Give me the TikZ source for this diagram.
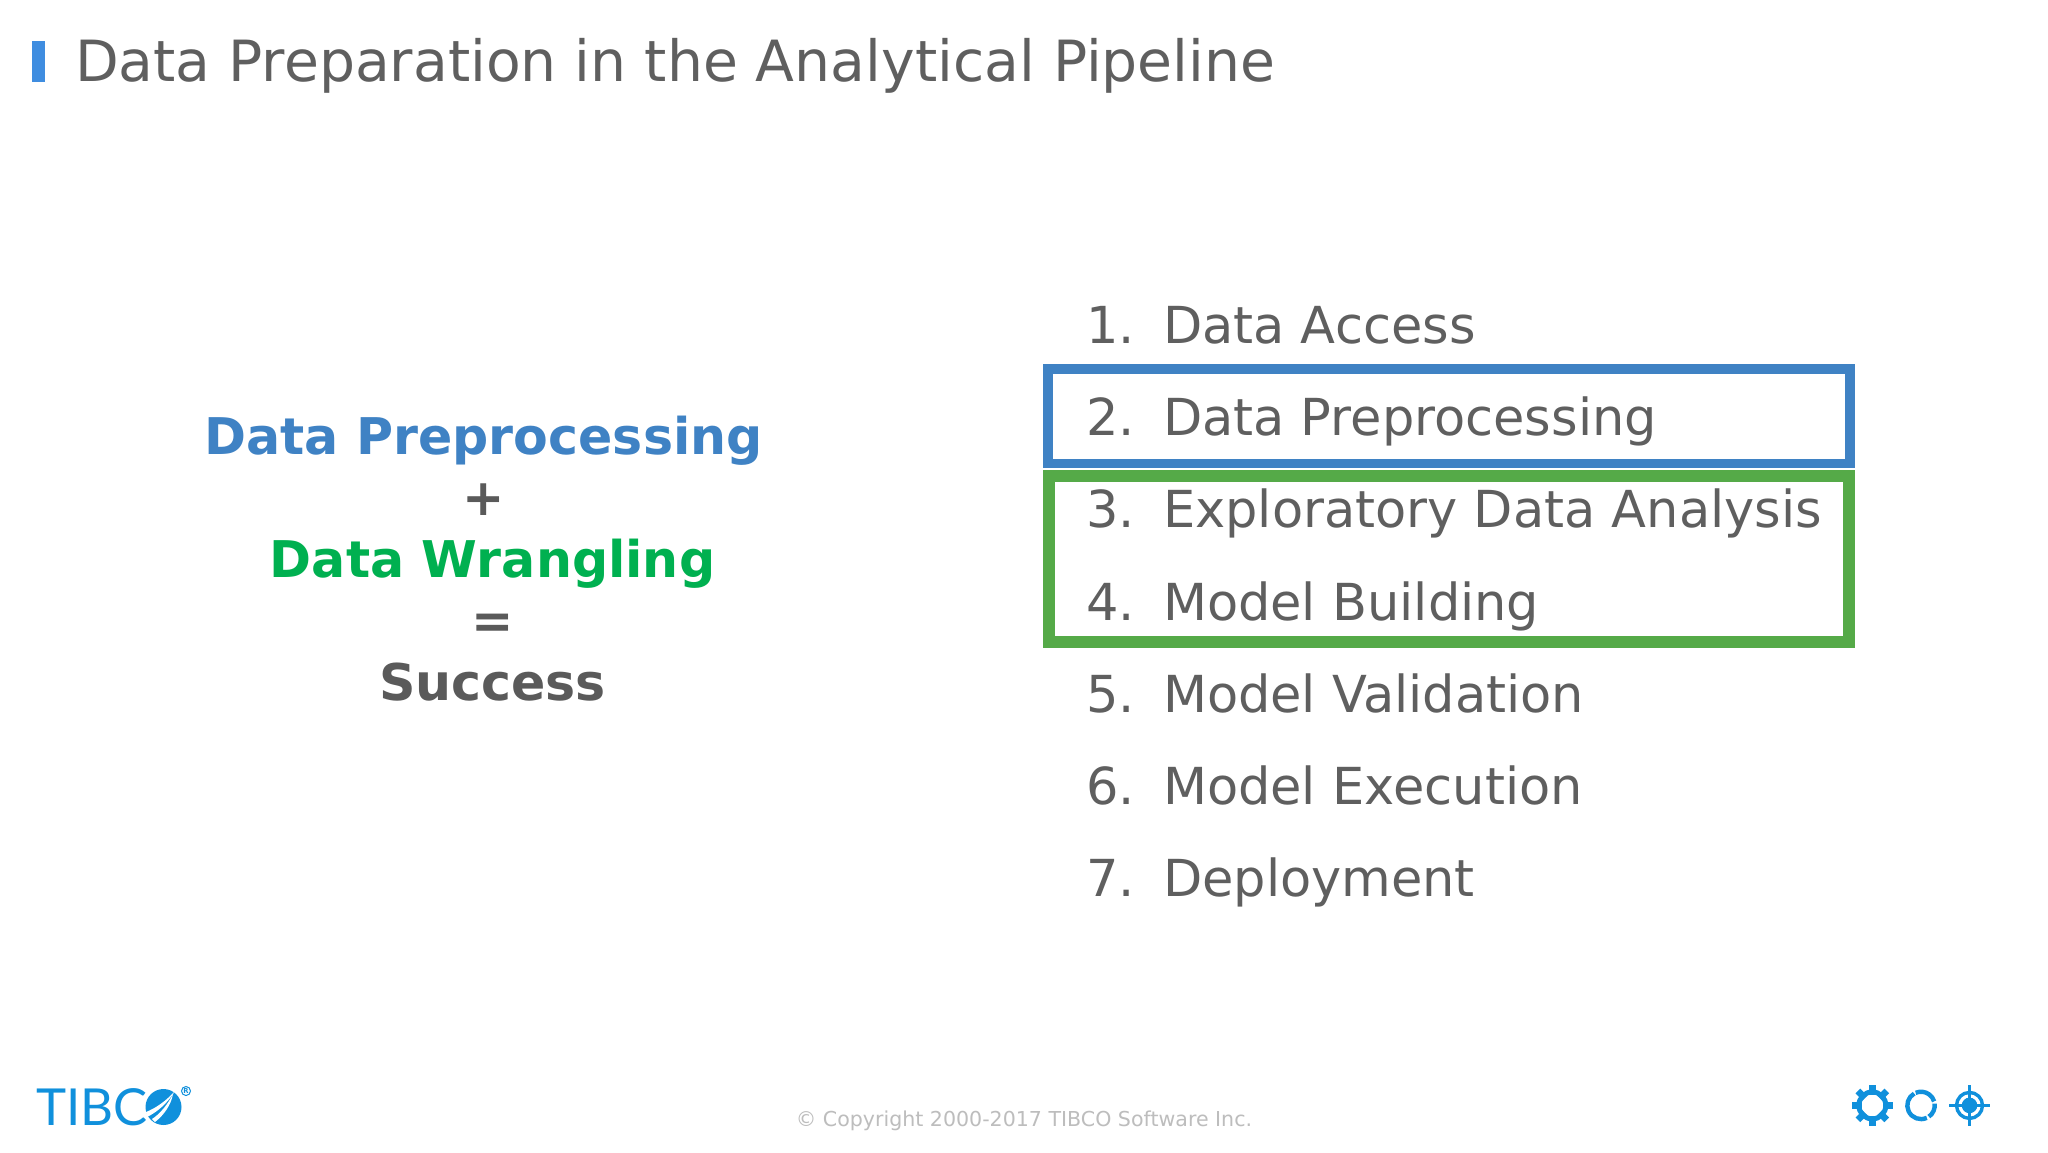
\documentclass[tikz,border=0pt]{standalone}
\usepackage{fontspec}
\setmainfont{DejaVu Sans}
\newfontfamily\logofont{Lato}
\definecolor{txtgray}{HTML}{5F5F5F}
\definecolor{boldgray}{HTML}{5A5A5A}
\definecolor{boxblue}{HTML}{3F82C4}
\definecolor{boxgreen}{HTML}{55AA48}
\definecolor{wrangle}{HTML}{00B050}
\definecolor{barblue}{HTML}{3F8DE0}
\definecolor{logoblue}{HTML}{1090DC}
\definecolor{copygray}{HTML}{BDBDBD}
\tikzset{
  x=0.5pt,y=-0.5pt,
  every node/.style={inner sep=0pt,outer sep=0pt},
  titletext/.style={anchor=base west,text=txtgray,font=\fontsize{28.4}{30}\selectfont},
  numtext/.style={anchor=base west,text=txtgray,font=\fontsize{25.5}{28}\selectfont},
  lefttext/.style={anchor=base,font=\fontsize{25.3}{28}\selectfont\bfseries},
}
\begin{document}
\begin{tikzpicture}
\useasboundingbox (0,0) rectangle (2048,1152);
\fill[white] (0,0) rectangle (2048,1152);
% title
\fill[barblue] (32,41) rectangle (45,82);
\node[titletext] (title) at (75,81) {Data Preparation in the Analytical Pipeline};
% boxes
\draw[boxblue,line width=4.75pt] (1048,369) rectangle (1850,463.5);
\draw[boxgreen,line width=6.25pt] (1049.2,476.2) rectangle (1848.8,641.8);
% list
\foreach \n/\t/\y in {1/Data Access/343,2/Data Preprocessing/435,3/Exploratory Data Analysis/527,4/Model Building/620,5/Model Validation/712,6/Model Execution/804,7/Deployment/896}{
  \node[numtext] (num\n) at (1086.5,\y) {\n.};
  \node[numtext] (item\n) at (1163,\y) {\t};
}
% left
\node[lefttext,text=boxblue] (lp) at (483.5,454) {Data Preprocessing};
\node[lefttext,text=boldgray] (lplus) at (483.5,515) {+};
\node[lefttext,text=wrangle] (lw) at (492.5,577) {Data Wrangling};
\node[lefttext,text=boldgray] (leq) at (492.5,638) {=};
\node[lefttext,text=boldgray] (ls) at (492.5,700) {Success};
% copyright
\node[anchor=base,text=copygray,font=\fontsize{10.28}{12}\selectfont] (copy) at (1024,1126) {© Copyright 2000-2017 TIBCO Software Inc.};
% logo
\node[anchor=base west,text=logoblue,font=\logofont\fontsize{25.5}{28}\selectfont] (logo) at (36,1125) {TIBC};
\fill[logoblue] (163.5,1107) circle[radius=18];
\fill[white] (146,1112) .. controls (156,1108) and (166,1101) .. (175,1091) .. controls (167,1104) and (157,1112) .. (147,1117) -- cycle;
\fill[white] (152,1119) .. controls (160,1114) and (168,1104) .. (173,1094) .. controls (171,1105) and (164,1115) .. (155,1122) -- cycle;
\draw[logoblue,line width=0.5pt] (186,1091) circle[radius=4.5];
\node[text=logoblue,font=\fontsize{3.4}{3.4}\selectfont\bfseries] (reg) at (186,1091) {R};
% gear
\foreach \a in {0,45,...,315}{
  \fill[logoblue,rotate around={\a:(1872.3,1105.4)}] (1869,1085) rectangle (1875.6,1095);
}
\draw[logoblue,line width=2.5pt] (1872.3,1105.4) circle[radius=13.5];
% ring
\draw[logoblue,line width=2.2pt] (1921,1105.4) ++(65:13.7) arc[start angle=65,end angle=240,radius=13.7];
\draw[logoblue,line width=2.2pt] (1921,1105.4) ++(247:13.7) arc[start angle=247,end angle=343,radius=13.7];
\draw[logoblue,line width=2.2pt] (1921,1105.4) ++(352:13.7) arc[start angle=352,end angle=415,radius=13.7];
% target
\draw[logoblue,line width=1.7pt] (1969.5,1105.4) circle[radius=13];
\fill[logoblue] (1969.5,1105.4) circle[radius=7.8];
\draw[logoblue,line width=1.7pt] (1949,1105.4) -- (1990,1105.4);
\draw[logoblue,line width=1.7pt] (1969.5,1085) -- (1969.5,1125.7);
\end{tikzpicture}
\end{document}
